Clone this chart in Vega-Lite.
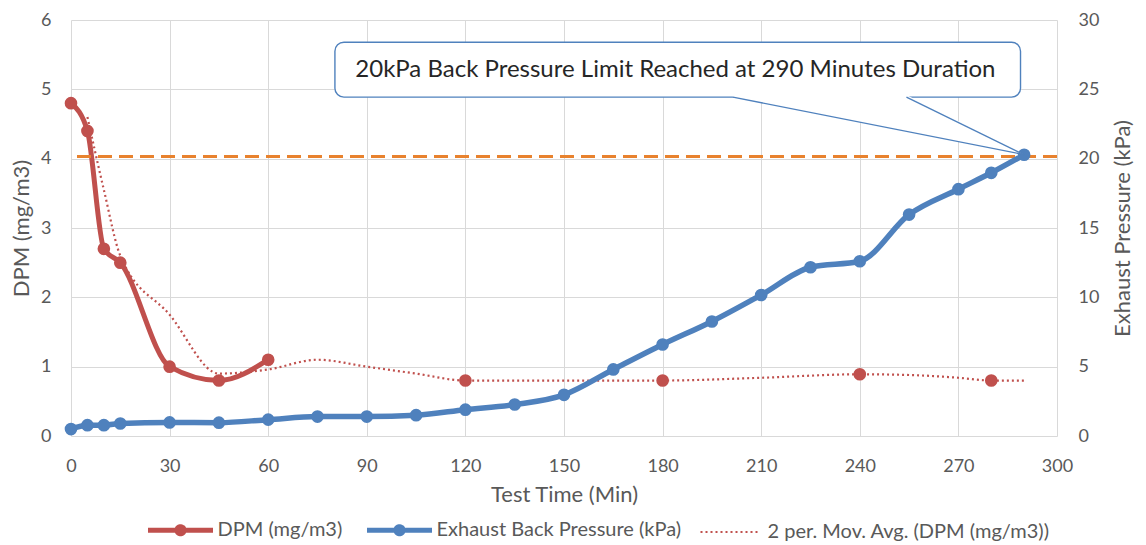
{
  "$schema": "https://vega.github.io/schema/vega-lite/v6.json",
  "width": 986,
  "height": 416,
  "autosize": {"type": "none"},
  "padding": {"left": 71, "top": 20, "right": 89, "bottom": 109},
  "background": "white",
  "config": {
    "view": {"stroke": null},
    "font": "Lato",
    "axis": {
      "labelFont": "Lato",
      "labelFontSize": 18,
      "labelColor": "#595959",
      "titleFont": "Lato",
      "titleFontSize": 22,
      "titleFontWeight": "normal",
      "titleColor": "#595959",
      "gridColor": "#D9D9D9",
      "gridWidth": 1,
      "domain": false,
      "ticks": false,
      "labelFlush": false
    },
    "legend": {
      "title": null,
      "labelFont": "Lato",
      "labelFontSize": 20,
      "labelColor": "#595959",
      "labelLimit": 500,
      "symbolSize": 4225,
      "symbolStrokeWidth": 5,
      "columnPadding": 14,
      "padding": 0
    }
  },
  "datasets": {
    "dpm": [
      {"t": 0, "v": 4.8, "run": "a"},
      {"t": 5, "v": 4.4, "run": "a"},
      {"t": 10, "v": 2.7, "run": "a"},
      {"t": 15, "v": 2.5, "run": "a"},
      {"t": 30, "v": 1.0, "run": "a"},
      {"t": 45, "v": 0.8, "run": "a"},
      {"t": 60, "v": 1.1, "run": "a"},
      {"t": 120, "v": 0.8, "run": "b"},
      {"t": 180, "v": 0.8, "run": "c"},
      {"t": 240, "v": 0.89, "run": "d"},
      {"t": 280, "v": 0.8, "run": "e"}
    ],
    "mavg": [
      {"t": 5, "v": 4.6},
      {"t": 10, "v": 3.55},
      {"t": 15, "v": 2.6},
      {"t": 30, "v": 1.75},
      {"t": 45, "v": 0.9},
      {"t": 60, "v": 0.96},
      {"t": 75, "v": 1.1},
      {"t": 90, "v": 1.0},
      {"t": 105, "v": 0.9},
      {"t": 120, "v": 0.8},
      {"t": 150, "v": 0.8},
      {"t": 180, "v": 0.8},
      {"t": 210, "v": 0.84},
      {"t": 240, "v": 0.89},
      {"t": 255, "v": 0.88},
      {"t": 270, "v": 0.84},
      {"t": 280, "v": 0.8},
      {"t": 290, "v": 0.8}
    ],
    "pressure": [
      {"t": 0, "p": 0.5},
      {"t": 5, "p": 0.78},
      {"t": 10, "p": 0.78},
      {"t": 15, "p": 0.9},
      {"t": 30, "p": 0.98},
      {"t": 45, "p": 0.96},
      {"t": 60, "p": 1.18},
      {"t": 75, "p": 1.4},
      {"t": 90, "p": 1.4},
      {"t": 105, "p": 1.5},
      {"t": 120, "p": 1.9},
      {"t": 135, "p": 2.27},
      {"t": 150, "p": 2.97},
      {"t": 165, "p": 4.8},
      {"t": 180, "p": 6.6},
      {"t": 195, "p": 8.26},
      {"t": 210, "p": 10.17},
      {"t": 225, "p": 12.17},
      {"t": 240, "p": 12.6},
      {"t": 255, "p": 15.97},
      {"t": 270, "p": 17.8},
      {"t": 280, "p": 18.98},
      {"t": 290, "p": 20.28}
    ],
    "limit": [{"p": 20.15}],
    "box": [{"t1": 80.3, "t2": 288.9, "y1": 4.887, "y2": 5.68, "tx": 86.5, "ty": 5.28, "label": "20kPa Back Pressure Limit Reached at 290 Minutes Duration"}],
    "tri": [
      {"t": 201.4, "lo": 4.887, "hi": 4.92},
      {"t": 254.2, "lo": 4.40, "hi": 4.92},
      {"t": 289.9, "lo": 4.06, "hi": 4.06}
    ],
    "pointer": [
      {"t1": 201.4, "y1": 4.887, "t2": 289.9, "y2": 4.06},
      {"t1": 254.2, "y1": 4.887, "t2": 289.9, "y2": 4.06}
    ]
  },
  "layer": [
    {
      "layer": [
        {
          "data": {"name": "mavg"},
          "mark": {"type": "line", "interpolate": "monotone", "strokeWidth": 2.2, "strokeDash": [2, 3]},
          "encoding": {
            "x": {"field": "t", "type": "quantitative", "scale": {"domain": [0, 300]},
              "axis": {"title": "Test Time (Min)", "values": [0, 30, 60, 90, 120, 150, 180, 210, 240, 270, 300], "labelPadding": 21, "titlePadding": 9, "grid": true}},
            "y": {"field": "v", "type": "quantitative", "scale": {"domain": [0, 6]},
              "axis": {"title": "DPM (mg/m3)", "orient": "left", "format": "d", "values": [0, 1, 2, 3, 4, 5, 6], "labelPadding": 20, "titlePadding": 7, "grid": true}},
            "color": {"datum": "2 per. Mov. Avg. (DPM (mg/m3))", "type": "nominal",
              "scale": {"domain": ["DPM (mg/m3)", "Exhaust Back Pressure (kPa)", "2 per. Mov. Avg. (DPM (mg/m3))"], "range": ["#C0504D", "#4F81BD", "#C0504D"]},
              "legend": {
                "orient": "none",
                "direction": "horizontal",
                "legendX": 77,
                "legendY": 500,
                "symbolSize": 4225,
                "symbolType": "stroke",
                "symbolOffset": 22.5,
                "labelOffset": 27,
                "encode": {
                  "symbols": {
                    "update": {
                      "shape": {"signal": "datum.value === '2 per. Mov. Avg. (DPM (mg/m3))' ? 'stroke' : 'M-1,0H1M-0.11,0A0.11,0.11,0,1,0,0.11,0A0.11,0.11,0,1,0,-0.11,0Z'"},
                      "size": {"signal": "datum.value === '2 per. Mov. Avg. (DPM (mg/m3))' ? 3600 : 4225"},
                      "strokeWidth": {"signal": "datum.value === '2 per. Mov. Avg. (DPM (mg/m3))' ? 2.2 : 5"},
                      "strokeDash": {"signal": "datum.value === '2 per. Mov. Avg. (DPM (mg/m3))' ? [2, 3] : [1, 0]"},
                      "stroke": {"signal": "scale('color', datum.value)"},
                      "fill": {"signal": "datum.value === '2 per. Mov. Avg. (DPM (mg/m3))' ? 'transparent' : scale('color', datum.value)"},
                      "opacity": {"value": 1}
                    }
                  }
                }
              }}
          }
        },
        {
          "data": {"name": "dpm"},
          "transform": [{"filter": "datum.run == 'a'"}],
          "mark": {"type": "line", "interpolate": "monotone", "strokeWidth": 5},
          "encoding": {
            "x": {"field": "t", "type": "quantitative"},
            "y": {"field": "v", "type": "quantitative"},
            "color": {"datum": "DPM (mg/m3)", "type": "nominal"}
          }
        },
        {
          "data": {"name": "dpm"},
          "mark": {"type": "circle", "size": 160, "opacity": 1},
          "encoding": {
            "x": {"field": "t", "type": "quantitative"},
            "y": {"field": "v", "type": "quantitative"},
            "color": {"datum": "DPM (mg/m3)", "type": "nominal"}
          }
        }
      ]
    },
    {
      "layer": [
        {
          "data": {"name": "limit"},
          "mark": {"type": "rule", "color": "#E8822E", "strokeWidth": 3, "strokeDash": [14, 7]},
          "encoding": {
            "y": {"field": "p", "type": "quantitative", "scale": {"domain": [0, 30]}}
          }
        },
        {
          "data": {"name": "pressure"},
          "mark": {"type": "line", "interpolate": "monotone", "strokeWidth": 5.5},
          "encoding": {
            "x": {"field": "t", "type": "quantitative"},
            "y": {"field": "p", "type": "quantitative", "scale": {"domain": [0, 30]},
              "axis": {"title": "Exhaust Pressure (kPa)", "orient": "right", "values": [0, 5, 10, 15, 20, 25, 30], "labelPadding": 21, "titlePadding": 14, "titleAngle": 270, "titleBaseline": "top", "grid": false}},
            "color": {"datum": "Exhaust Back Pressure (kPa)", "type": "nominal"}
          }
        },
        {
          "data": {"name": "pressure"},
          "mark": {"type": "circle", "size": 160, "opacity": 1},
          "encoding": {
            "x": {"field": "t", "type": "quantitative"},
            "y": {"field": "p", "type": "quantitative"},
            "color": {"datum": "Exhaust Back Pressure (kPa)", "type": "nominal"}
          }
        }
      ]
    },
    {
      "layer": [
        {
          "data": {"name": "box"},
          "mark": {"type": "rect", "fill": "white", "stroke": "#4F81BD", "strokeWidth": 1.4, "cornerRadius": 9},
          "encoding": {
            "x": {"field": "t1", "type": "quantitative"},
            "x2": {"field": "t2"},
            "y": {"field": "y1", "type": "quantitative", "scale": {"domain": [0, 6]}, "axis": null},
            "y2": {"field": "y2"}
          }
        },
        {
          "data": {"name": "tri"},
          "mark": {"type": "area", "fill": "white", "opacity": 1},
          "encoding": {
            "x": {"field": "t", "type": "quantitative"},
            "y": {"field": "lo", "type": "quantitative"},
            "y2": {"field": "hi"}
          }
        },
        {
          "data": {"name": "pointer"},
          "mark": {"type": "rule", "color": "#4F81BD", "strokeWidth": 1.4},
          "encoding": {
            "x": {"field": "t1", "type": "quantitative"},
            "x2": {"field": "t2"},
            "y": {"field": "y1", "type": "quantitative"},
            "y2": {"field": "y2"}
          }
        },
        {
          "data": {"name": "box"},
          "mark": {"type": "text", "align": "left", "baseline": "middle", "fontSize": 24, "font": "Lato", "color": "#262626"},
          "encoding": {
            "x": {"field": "tx", "type": "quantitative"},
            "y": {"field": "ty", "type": "quantitative"},
            "text": {"field": "label"}
          }
        }
      ]
    }
  ],
  "resolve": {"scale": {"y": "independent"}}
}
